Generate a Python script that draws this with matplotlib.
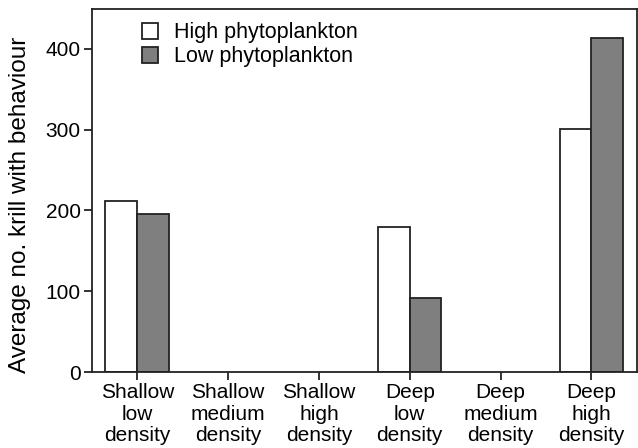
import numpy as np
import matplotlib
matplotlib.use("Agg")
import matplotlib.pyplot as plt

plt.rcParams['font.family'] = ['Liberation Sans', 'DejaVu Sans']

categories = ["Shallow\nlow\ndensity", "Shallow\nmedium\ndensity", "Shallow\nhigh\ndensity",
              "Deep\nlow\ndensity", "Deep\nmedium\ndensity", "Deep\nhigh\ndensity"]
high_phyto = [212, 0, 0, 180, 0, 301]
low_phyto = [195, 0, 0, 92, 0, 413]

x = np.arange(len(categories))
w = 0.35
edge = "#222222"
grey = "#7f7f7f"

fig = plt.figure(figsize=(6.38, 4.48), dpi=100)
ax = fig.add_axes([0.144, 0.169, 0.854, 0.811])

# white bar sits left of the tick, grey bar right of it; zero values are not drawn
for i in range(len(categories)):
    if high_phyto[i] > 0:
        ax.bar(x[i] - w, high_phyto[i], width=w, align="edge", color="white",
               edgecolor=edge, linewidth=1.3)
    if low_phyto[i] > 0:
        ax.bar(x[i], low_phyto[i], width=w, align="edge", color=grey,
               edgecolor=edge, linewidth=1.3)

h1 = plt.Rectangle((0, 0), 1, 1, facecolor="white", edgecolor=edge, linewidth=1.3)
h2 = plt.Rectangle((0, 0), 1, 1, facecolor=grey, edgecolor=edge, linewidth=1.3)
ax.legend([h1, h2], ["High phytoplankton", "Low phytoplankton"], loc="upper left",
          bbox_to_anchor=(0.064, 1.005), frameon=False, fontsize=15.5,
          handlelength=0.75, handleheight=0.75, handletextpad=0.75, labelspacing=0.15,
          borderaxespad=0.3)

ax.set_xlim(-0.5, 5.5)
ax.set_ylim(0, 449)
ax.set_yticks([0, 100, 200, 300, 400])
ax.set_xticks(x)
ax.set_xticklabels(categories, fontsize=15, linespacing=1.15)
ax.tick_params(axis="y", labelsize=15, length=6, width=1.3, color=edge, pad=2)
ax.tick_params(axis="x", length=6, width=1.3, color=edge, pad=2)
for s in ax.spines.values():
    s.set_linewidth(1.3)
    s.set_color(edge)
ax.set_ylabel("Average no. krill with behaviour", fontsize=17.5)
ax.yaxis.set_label_coords(-0.112, 0.46)

fig.savefig("out.png", dpi=100)
